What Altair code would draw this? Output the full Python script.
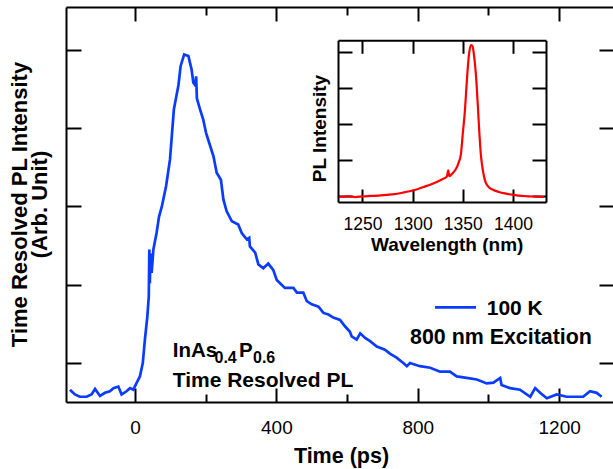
import altair as alt
import pandas as pd

# ---------------- data ----------------
time_ps = [-184, -170, -156, -137, -123, -113, -99, -85, -71, -61, -47, -38, -24, -14, -5,
           5, 14, 22, 28, 35, 39, 40.5, 42, 44, 47, 52, 61, 68, 76, 88, 99, 110, 123, 129,
           139, 151, 160, 165, 170, 173, 175, 184, 193, 201, 210, 222, 231, 243, 250, 259,
           274, 292, 302, 316, 323, 325, 340, 349, 363, 377, 391, 401, 424, 448, 458, 476,
           486, 500, 519, 533, 547, 561, 580, 594, 608, 613, 627, 637, 651, 665, 684, 707,
           721, 740, 759, 769, 778, 806, 835, 863, 891, 910, 938, 967, 995, 1014, 1033,
           1037, 1061, 1089, 1118, 1132, 1146, 1165, 1193, 1221, 1250, 1268, 1287, 1306, 1320]
intensity = [0.66, 0.60, 0.57, 0.57, 0.60, 0.67, 0.58, 0.62, 0.64, 0.68, 0.70, 0.60, 0.64, 0.68, 0.66,
             0.75, 0.83, 1.00, 1.30, 1.60, 1.85, 2.45, 2.02, 2.40, 2.15, 2.45, 2.66, 2.87, 3.00, 3.26,
             3.60, 4.24, 4.55, 4.79, 4.94, 4.92, 4.75, 4.58, 4.55, 4.66, 4.38, 4.24, 4.11, 3.94, 3.81,
             3.64, 3.43, 3.34, 3.09, 2.94, 2.81, 2.77, 2.66, 2.58, 2.60, 2.49, 2.41, 2.26, 2.21, 2.27,
             2.19, 2.06, 1.96, 1.96, 1.90, 1.90, 1.79, 1.75, 1.72, 1.64, 1.62, 1.58, 1.55, 1.47, 1.40,
             1.34, 1.30, 1.38, 1.32, 1.28, 1.21, 1.17, 1.12, 1.07, 1.00, 0.96, 1.00, 0.96, 0.94, 0.89,
             0.89, 0.83, 0.81, 0.79, 0.74, 0.75, 0.81, 0.72, 0.68, 0.66, 0.57, 0.68, 0.62, 0.55, 0.60,
             0.57, 0.57, 0.57, 0.64, 0.62, 0.57]

wavelength_nm = [1227, 1235, 1243, 1250, 1258, 1266, 1274, 1282, 1290, 1297, 1304, 1311, 1318, 1324,
                 1330, 1334, 1335.5, 1336.5, 1340, 1343, 1346, 1348, 1350, 1352, 1354, 1356, 1358,
                 1359.5, 1361, 1363, 1365, 1366.5, 1368, 1370, 1372, 1375, 1380, 1386, 1392, 1398,
                 1405, 1415, 1425, 1431]
pl_intensity = [-0.02, 0.00, -0.02, 0.00, 0.01, 0.02, 0.04, 0.06, 0.10, 0.14, 0.19, 0.26, 0.33, 0.40,
                0.48, 0.54, 0.72, 0.56, 0.65, 0.75, 0.95, 1.15, 1.75, 2.35, 3.20, 3.90, 4.20,
                4.18, 3.95, 3.40, 2.50, 1.75, 1.15, 0.72, 0.45, 0.28, 0.18, 0.12, 0.08, 0.05,
                0.02, 0.00, -0.01, -0.02]

x_ticks = [0, 200, 400, 600, 800, 1000, 1200]
y_ticks = [1, 2, 3, 4, 5]
inset_x_ticks = [1250, 1300, 1350, 1400]
inset_y_ticks = [0, 1, 2, 3, 4]

FONT = "Liberation Sans"
BLUE = "#0a3cff"
RED = "#ff0000"

main_df = pd.DataFrame({"t": time_ps, "v": intensity})
inset_df = pd.DataFrame({"wl": wavelength_nm, "pl": pl_intensity})

xs = alt.Scale(domain=[-195.2, 1352.2], nice=False, zero=False)
ys = alt.Scale(domain=[0.503, 5.546], nice=False, zero=False)
ixs = alt.Scale(domain=[1225.6, 1432.9], range=[272, 480], nice=False, zero=False)
iys = alt.Scale(domain=[-0.158, 4.333], range=[195, 33.3], nice=False, zero=False)

mm_ticks = {"expr": "datum.value % 400 === 0 ? -14 : -8"}

# ---------------- main plot ----------------
main_line = alt.Chart(main_df).mark_line(color=BLUE, strokeWidth=2.7).encode(
    x=alt.X("t:Q", scale=xs, axis=alt.Axis(
        orient="bottom", values=x_ticks, tickSize=mm_ticks, format="d",
        labelExpr="datum.value % 400 === 0 ? datum.label : ''",
        labelPadding=30.5, labelFontSize=19, domain=True,
        title="Time (ps)", titleFontSize=21.5, titleFontWeight="bold",
        titleX=275, titleY=60, titleBaseline="alphabetic", titleAlign="center")),
    y=alt.Y("v:Q", scale=ys, axis=alt.Axis(
        orient="left", values=y_ticks, tickSize={"expr": "-15"}, labels=False, domain=True,
        title=["Time Resolved PL Intensity", "(Arb. Unit)"], titleFontSize=22,
        titleFontWeight="bold", titleAngle=270, titleBaseline="alphabetic",
        titleAlign="center", titleX=-40, titleY=197, titleLineHeight=20)),
)

main_mirror = alt.Chart(main_df).mark_line(strokeOpacity=0).encode(
    x=alt.X("t:Q", scale=xs, axis=alt.Axis(
        orient="top", values=x_ticks, tickSize=mm_ticks, labels=False, domain=True, title=None)),
    y=alt.Y("v:Q", scale=ys, axis=alt.Axis(
        orient="right", values=y_ticks, tickSize={"expr": "-14"}, labels=False, domain=False,
        title=None)),
)

# ---------------- inset ----------------
inset_line = alt.Chart(inset_df).mark_line(color=RED, strokeWidth=2.2, interpolate="monotone").encode(
    x=alt.X("wl:Q", scale=ixs, axis=alt.Axis(
        orient="bottom", offset=-200, values=inset_x_ticks, tickSize={"expr": "-13"},
        format="d", labelPadding=26.5, labelFontSize=17.5, domain=True,
        title="Wavelength (nm)", titleFontSize=19, titleFontWeight="bold",
        titleX=380.7, titleY=48, titleBaseline="alphabetic", titleAlign="center")),
    y=alt.Y("pl:Q", scale=iys, axis=alt.Axis(
        orient="left", offset=-272, values=inset_y_ticks, tickSize={"expr": "-14"},
        labels=False, domain=True, title="PL Intensity", titleFontSize=19,
        titleFontWeight="bold", titleAngle=270, titleBaseline="alphabetic",
        titleAlign="center", titleX=-13, titleY=121)),
)

inset_mirror = alt.Chart(inset_df).mark_line(strokeOpacity=0).encode(
    x=alt.X("wl:Q", scale=ixs, axis=alt.Axis(
        orient="top", offset=-33.3, values=inset_x_ticks, tickSize={"expr": "-13"},
        labels=False, domain=True, title=None)),
    y=alt.Y("pl:Q", scale=iys, axis=alt.Axis(
        orient="right", offset=-67, values=inset_y_ticks, tickSize={"expr": "-14"},
        labels=False, domain=True, title=None)),
)

# ---------------- annotations ----------------
def label(txt, x, y, size, align="left"):
    return alt.Chart(pd.DataFrame({"s": [txt]})).mark_text(
        font=FONT, fontSize=size, fontWeight="bold", align=align, baseline="alphabetic",
        color="black").encode(text="s:N", x=alt.value(x), y=alt.value(y))

annotations = [
    label("InAs", 106.7, 350.3, 20.5),
    label("0.4", 148.5, 355.8, 16),
    label("P", 173, 350.3, 20.5),
    label("0.6", 187, 355.8, 16),
    label("Time Resolved PL", 106.7, 379.7, 21),
    label("100 K", 420.7, 308, 21),
    label("800 nm Excitation", 344, 337, 21.4),
]

legend_line = alt.Chart(pd.DataFrame({"s": ["100 K"]})).mark_rule(
    color=BLUE, strokeWidth=2.7).encode(
    x=alt.value(369), x2=alt.value(410), y=alt.value(300.3))

chart = alt.layer(
    main_line, main_mirror, inset_line, inset_mirror, legend_line, *annotations
).resolve_scale(
    x="independent", y="independent"
).resolve_axis(
    x="independent", y="independent"
).properties(
    width=547, height=395,
    autosize=alt.AutoSizeParams(type="none"),
    padding={"left": 66, "top": 7, "right": 0, "bottom": 67},
    background="white",
).configure_view(
    stroke=None
).configure_axis(
    labelFont=FONT, titleFont=FONT, labelColor="black", titleColor="black",
    domainColor="black", tickColor="black", domainWidth=2, tickWidth=2,
    grid=False, labelFontWeight="normal",
)

chart.save("out.html", embed_options={"renderer": "svg", "actions": False})
